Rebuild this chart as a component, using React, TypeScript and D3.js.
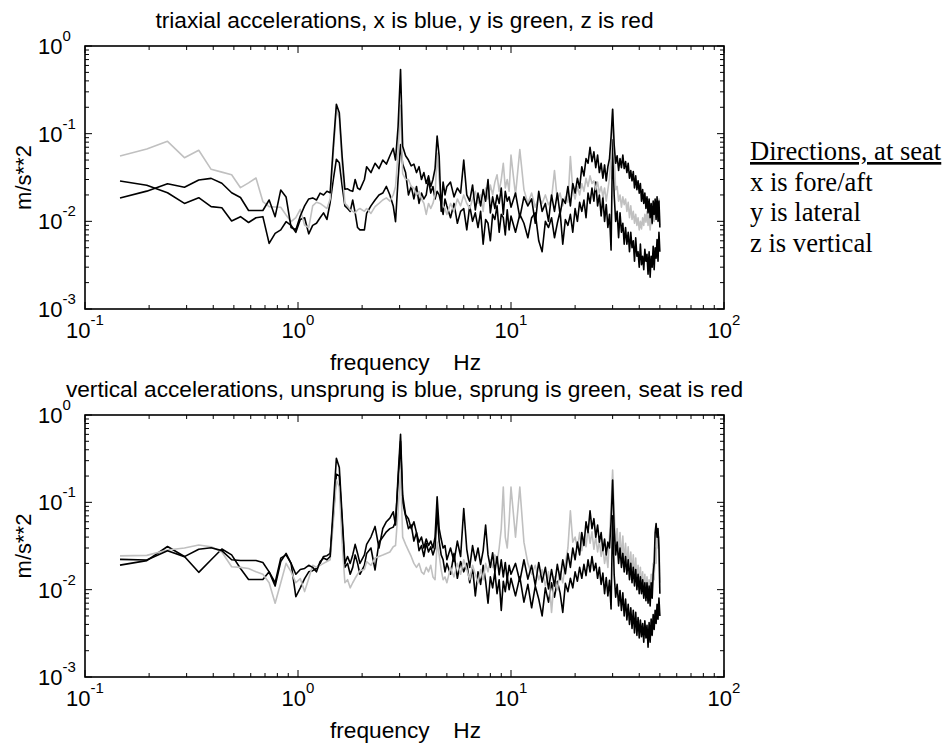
import React from 'react';
import * as d3 from 'd3';

// frequency bins, Hz (shared by every series)
const FREQ = [
  0.146, 0.195, 0.244, 0.293, 0.342, 0.391, 0.439, 0.488, 0.537, 0.586,
  0.635, 0.684, 0.732, 0.781, 0.830, 0.879, 0.928, 0.977, 1.025, 1.074,
  1.123, 1.172, 1.221, 1.270, 1.318, 1.367, 1.416, 1.465, 1.514, 1.563,
  1.611, 1.660, 1.709, 1.758, 1.807, 1.855, 1.904, 1.953,
  2.05, 2.1, 2.2, 2.3, 2.4, 2.5, 2.6, 2.7, 2.8, 2.87, 2.95, 3.03, 3.1, 3.2, 3.3, 3.4,
  3.5, 3.6, 3.7, 3.8, 3.9, 4.0, 4.1, 4.2, 4.3, 4.4, 4.5, 4.6, 4.7, 4.8, 4.9, 5.0,
  5.2, 5.4, 5.6, 5.8, 6.0, 6.2, 6.4, 6.6, 6.8, 7.0, 7.2, 7.4, 7.6, 7.8, 8.0, 8.2,
  8.4, 8.6, 8.8, 9.0, 9.2, 9.4, 9.6, 9.8, 10.0,
  10.5, 11, 11.5, 12, 12.5, 13, 13.5, 14, 14.5, 15, 15.5, 16, 16.5, 17, 17.5, 18, 18.5, 19, 19.5, 20,
  20.5, 21, 21.5, 22, 22.5, 23, 23.5, 24, 24.5, 25, 25.5, 26, 26.5, 27, 27.5, 28, 28.5, 29, 29.5, 30,
  30.5, 31, 31.5, 32, 32.5, 33, 33.5, 34, 34.5, 35, 35.5, 36, 36.5, 37, 37.5, 38, 38.5, 39, 39.5, 40,
  40.5, 41, 41.5, 42, 42.5, 43, 43.5, 44, 44.5, 45, 45.5, 46, 46.5, 47, 47.5, 48, 48.5, 49, 49.5, 50,
];

// ---- top panel: triaxial accelerations at seat (m/s**2) ----
const TOP_X = [
  0.0288, 0.0258, 0.0212, 0.0160, 0.0186, 0.0147, 0.0143, 0.0101, 0.0113, 0.0097,
  0.0110, 0.0113, 0.0056, 0.0073, 0.0080, 0.0099, 0.0090,
  0.0075, 0.0105, 0.0110, 0.0072, 0.0090, 0.0095, 0.0110, 0.0125, 0.0105,
  0.0164, 0.030, 0.051, 0.0465, 0.0253, 0.015,
  0.0140, 0.0130, 0.0175, 0.0125, 0.0085, 0.0080,
  0.0080, 0.0123, 0.0150, 0.0175, 0.0200, 0.0210, 0.0250, 0.0200, 0.0150, 0.0099, 0.030, 0.075,
  0.045, 0.036, 0.020, 0.025, 0.018, 0.025, 0.016, 0.021, 0.018, 0.020,
  0.030, 0.021, 0.025, 0.018, 0.022, 0.020, 0.016, 0.012, 0.018, 0.015,
  0.011, 0.016, 0.0095, 0.013, 0.014, 0.008, 0.015, 0.010, 0.0125, 0.0085, 0.013, 0.0055, 0.0105,
  0.0095, 0.006, 0.012, 0.0105, 0.015, 0.0075, 0.012, 0.011, 0.007, 0.0135, 0.008, 0.0115,
  0.0075, 0.012, 0.0095, 0.0065, 0.011, 0.0125, 0.006, 0.0045, 0.010, 0.0085,
  0.011, 0.0065, 0.0095, 0.013, 0.0055, 0.0105, 0.009, 0.012, 0.0075, 0.014,
  0.010, 0.0165, 0.013, 0.0175, 0.011, 0.021, 0.016, 0.024, 0.017, 0.028,
  0.015, 0.020, 0.0115, 0.019, 0.010, 0.0155, 0.0085, 0.012, 0.0047, 0.085,
  0.020, 0.010, 0.013, 0.0065, 0.0125, 0.0075, 0.0095, 0.0055, 0.0085, 0.0055,
  0.0075, 0.0045, 0.0075, 0.005, 0.006, 0.0035, 0.0065, 0.004, 0.0045, 0.003,
  0.0055, 0.0032, 0.004, 0.0028, 0.0048, 0.0035, 0.0042, 0.0025, 0.0045, 0.0023,
  0.004, 0.003, 0.0052, 0.0028, 0.005, 0.0038, 0.0062, 0.0035, 0.0075, 0.0045,
];
const TOP_Y = [
  0.0556, 0.0668, 0.0818, 0.0532, 0.0646, 0.0392, 0.0364, 0.034, 0.0242, 0.0275,
  0.0312, 0.0168, 0.0147, 0.0146, 0.0145, 0.0118, 0.0099,
  0.0110, 0.0137, 0.0090, 0.0085, 0.0150, 0.0165, 0.0160, 0.0150, 0.0140,
  0.018, 0.060, 0.19, 0.15, 0.045, 0.016,
  0.0150, 0.0135, 0.0130, 0.0125, 0.0135, 0.0140,
  0.0130, 0.0140, 0.0123, 0.0147, 0.0160, 0.0175, 0.0185, 0.0170, 0.0200, 0.025, 0.060, 0.210,
  0.035, 0.030, 0.030, 0.025, 0.024, 0.020, 0.022, 0.018, 0.016, 0.012,
  0.016, 0.014, 0.016, 0.020, 0.060, 0.030, 0.018, 0.015, 0.014, 0.012,
  0.016, 0.013, 0.018, 0.015, 0.020, 0.016, 0.014, 0.018, 0.022, 0.016, 0.020, 0.013, 0.024,
  0.018, 0.026, 0.020, 0.028, 0.034, 0.022, 0.030, 0.046, 0.024, 0.030, 0.022, 0.057,
  0.020, 0.066, 0.023, 0.016, 0.021, 0.0145, 0.019, 0.016, 0.020, 0.0155,
  0.018, 0.038, 0.0175, 0.021, 0.015, 0.019, 0.0165, 0.055, 0.023, 0.018,
  0.025, 0.020, 0.027, 0.022, 0.031, 0.025, 0.033, 0.027, 0.029, 0.023,
  0.028, 0.021, 0.025, 0.019, 0.024, 0.017, 0.023, 0.031, 0.060, 0.190,
  0.060, 0.023, 0.025, 0.017, 0.020, 0.0145, 0.019, 0.0155, 0.018, 0.013,
  0.0165, 0.011, 0.015, 0.0105, 0.013, 0.0095, 0.012, 0.009, 0.011, 0.008,
  0.010, 0.0082, 0.011, 0.009, 0.012, 0.0098, 0.013, 0.009, 0.012, 0.008,
  0.011, 0.0092, 0.013, 0.010, 0.014, 0.011, 0.016, 0.012, 0.018, 0.009,
];
const TOP_Z = [
  0.0185, 0.0221, 0.0268, 0.0245, 0.0296, 0.0309, 0.0272, 0.0212, 0.0187, 0.0133,
  0.0133, 0.0133, 0.0175, 0.0113, 0.0228, 0.0190, 0.0085,
  0.0080, 0.0115, 0.0150, 0.0180, 0.0185, 0.0175, 0.0210, 0.0200, 0.0220,
  0.0212, 0.072, 0.216, 0.173, 0.0556, 0.0232,
  0.0235, 0.0225, 0.0220, 0.0300, 0.0240, 0.0230,
  0.030, 0.042, 0.036, 0.046, 0.040, 0.050, 0.045, 0.056, 0.068, 0.050, 0.12, 0.54,
  0.072, 0.056, 0.050, 0.043, 0.045, 0.036, 0.042, 0.030, 0.036, 0.027,
  0.033, 0.025, 0.030, 0.040, 0.094, 0.055, 0.013, 0.028, 0.020, 0.025,
  0.028, 0.019, 0.024, 0.021, 0.050, 0.020, 0.017, 0.026, 0.0135, 0.021, 0.015, 0.023, 0.017,
  0.030, 0.0125, 0.019, 0.014, 0.020, 0.016, 0.024, 0.012, 0.022, 0.017, 0.019, 0.0145,
  0.021, 0.011, 0.019, 0.015, 0.018, 0.0095, 0.022, 0.013, 0.016, 0.010,
  0.020, 0.013, 0.021, 0.012, 0.018, 0.016, 0.025, 0.015, 0.027, 0.021,
  0.031, 0.024, 0.042, 0.033, 0.052, 0.046, 0.070, 0.048, 0.062, 0.041,
  0.057, 0.036, 0.046, 0.031, 0.044, 0.029, 0.042, 0.052, 0.092, 0.190,
  0.075, 0.046, 0.056, 0.038, 0.052, 0.041, 0.057, 0.040, 0.048, 0.036,
  0.046, 0.031, 0.038, 0.029, 0.037, 0.024, 0.033, 0.023, 0.029, 0.021,
  0.027, 0.017, 0.023, 0.016, 0.021, 0.014, 0.019, 0.0125, 0.018, 0.011,
  0.016, 0.0095, 0.017, 0.012, 0.018, 0.0105, 0.019, 0.010, 0.017, 0.0085,
];

// ---- bottom panel: vertical accelerations (m/s**2) ----
const BOT_UNSPRUNG = [
  0.0191, 0.0215, 0.0312, 0.0240, 0.0158, 0.0220, 0.0292, 0.0250, 0.0175, 0.0131,
  0.0131, 0.0131, 0.0160, 0.0110, 0.0210, 0.0260, 0.0200,
  0.0083, 0.0105, 0.0134, 0.0160, 0.0165, 0.0175, 0.0200, 0.0240, 0.0245,
  0.0260, 0.070, 0.21, 0.20, 0.06, 0.018,
  0.0200, 0.0150, 0.0180, 0.0250, 0.0200, 0.0150,
  0.0190, 0.026, 0.030, 0.0168, 0.035, 0.040, 0.046, 0.050, 0.052, 0.060, 0.17, 0.50,
  0.10, 0.070, 0.050, 0.055, 0.036, 0.045, 0.028, 0.032, 0.024, 0.034,
  0.027, 0.031, 0.025, 0.030, 0.080, 0.036, 0.025, 0.022, 0.016, 0.020,
  0.015, 0.026, 0.0135, 0.021, 0.016, 0.020, 0.012, 0.018, 0.0085, 0.016, 0.0115, 0.019, 0.0125,
  0.007, 0.014, 0.0105, 0.016, 0.009, 0.013, 0.0058, 0.0125, 0.0095, 0.014, 0.010, 0.0135,
  0.0085, 0.014, 0.0072, 0.0115, 0.0062, 0.011, 0.0078, 0.005, 0.0105, 0.0072,
  0.012, 0.0082, 0.0125, 0.0092, 0.0055, 0.0118, 0.0095, 0.0135, 0.0105, 0.016,
  0.0125, 0.018, 0.0135, 0.0195, 0.0145, 0.022, 0.016, 0.024, 0.0165, 0.020,
  0.0135, 0.018, 0.0115, 0.0155, 0.009, 0.0138, 0.0085, 0.0128, 0.006, 0.070,
  0.015, 0.0082, 0.0115, 0.0065, 0.0098, 0.0058, 0.0092, 0.005, 0.0078, 0.0045,
  0.0068, 0.004, 0.0062, 0.0036, 0.0058, 0.0032, 0.0055, 0.003, 0.0048, 0.0028,
  0.0045, 0.0029, 0.0041, 0.0025, 0.0044, 0.0028, 0.0039, 0.0022, 0.0042, 0.0025,
  0.0046, 0.003, 0.0052, 0.0035, 0.0058, 0.0041, 0.0068, 0.0046, 0.008, 0.005,
];
const BOT_SPRUNG = [
  0.0244, 0.0247, 0.0284, 0.0300, 0.0325, 0.0310, 0.0270, 0.0183, 0.0180, 0.0175,
  0.0160, 0.0150, 0.0120, 0.0070, 0.0120, 0.0200, 0.0160,
  0.0120, 0.0134, 0.0095, 0.0134, 0.0190, 0.0180, 0.0190, 0.0200, 0.0210,
  0.0220, 0.060, 0.18, 0.15, 0.035, 0.012,
  0.0130, 0.0105, 0.0120, 0.0135, 0.0150, 0.0165,
  0.0170, 0.0209, 0.0190, 0.0230, 0.0240, 0.0249, 0.0260, 0.0270, 0.031, 0.032, 0.080, 0.235,
  0.040, 0.033, 0.028, 0.024, 0.020, 0.018, 0.020, 0.016, 0.015, 0.018,
  0.016, 0.019, 0.014, 0.013, 0.035, 0.025, 0.017, 0.013, 0.014, 0.012,
  0.018, 0.014, 0.020, 0.015, 0.022, 0.017, 0.013, 0.019, 0.015, 0.012, 0.017, 0.013, 0.020,
  0.016, 0.022, 0.018, 0.025, 0.020, 0.030, 0.050, 0.150, 0.040, 0.030, 0.060, 0.150,
  0.040, 0.150, 0.035, 0.020, 0.015, 0.019, 0.013, 0.017, 0.011, 0.016,
  0.0055, 0.014, 0.010, 0.016, 0.012, 0.020, 0.030, 0.080, 0.035, 0.040,
  0.030, 0.045, 0.028, 0.040, 0.031, 0.050, 0.034, 0.046, 0.029, 0.041,
  0.027, 0.036, 0.024, 0.031, 0.020, 0.026, 0.018, 0.040, 0.090, 0.235,
  0.080, 0.030, 0.050, 0.024, 0.045, 0.022, 0.041, 0.020, 0.034, 0.018,
  0.031, 0.016, 0.027, 0.015, 0.025, 0.013, 0.023, 0.012, 0.019, 0.011,
  0.018, 0.010, 0.016, 0.0085, 0.015, 0.008, 0.014, 0.0075, 0.013, 0.008,
  0.015, 0.010, 0.020, 0.013, 0.030, 0.020, 0.045, 0.030, 0.040, 0.012,
];
const BOT_SEAT = [
  0.0222, 0.0219, 0.0279, 0.0239, 0.0290, 0.0302, 0.0280, 0.0220, 0.0216, 0.0216,
  0.0216, 0.0205, 0.0160, 0.0120, 0.0230, 0.0250, 0.0200,
  0.0150, 0.0170, 0.0175, 0.0190, 0.0180, 0.0160, 0.0210, 0.0230, 0.0220,
  0.0240, 0.090, 0.32, 0.25, 0.07, 0.020,
  0.0240, 0.0200, 0.0250, 0.0330, 0.0260, 0.0200,
  0.0250, 0.033, 0.040, 0.053, 0.030, 0.050, 0.060, 0.066, 0.078, 0.055, 0.20, 0.60,
  0.12, 0.072, 0.065, 0.050, 0.060, 0.045, 0.035, 0.040, 0.030, 0.038,
  0.032, 0.036, 0.030, 0.040, 0.116, 0.050, 0.038, 0.030, 0.032, 0.022,
  0.030, 0.021, 0.036, 0.024, 0.085, 0.029, 0.018, 0.032, 0.0215, 0.030, 0.0195, 0.028, 0.055,
  0.025, 0.018, 0.0265, 0.016, 0.024, 0.0148, 0.022, 0.014, 0.0205, 0.013, 0.019, 0.015,
  0.020, 0.0125, 0.022, 0.0132, 0.019, 0.0112, 0.0205, 0.0122, 0.018, 0.0102,
  0.017, 0.011, 0.0195, 0.013, 0.022, 0.0152, 0.026, 0.018, 0.030, 0.022,
  0.035, 0.025, 0.045, 0.032, 0.060, 0.045, 0.080, 0.050, 0.065, 0.040,
  0.055, 0.035, 0.045, 0.028, 0.038, 0.025, 0.035, 0.030, 0.060, 0.180,
  0.050, 0.025, 0.035, 0.020, 0.030, 0.018, 0.026, 0.016, 0.024, 0.015,
  0.022, 0.013, 0.020, 0.012, 0.018, 0.011, 0.017, 0.010, 0.015, 0.009,
  0.014, 0.009, 0.013, 0.008, 0.012, 0.0075, 0.012, 0.007, 0.011, 0.0065,
  0.012, 0.008, 0.015, 0.020, 0.045, 0.057, 0.040, 0.050, 0.030, 0.009,
];

// axis tick exponents (labels are 10^e)
const X_EXPONENTS = [-1, 0, 1, 2];
const Y_EXPONENTS = [-3, -2, -1, 0];
const MINOR_MULTIPLIERS = [2, 3, 4, 5, 6, 7, 8, 9];

const TOP_TITLE = 'triaxial accelerations, x is blue, y is green, z is red';
const BOT_TITLE = 'vertical accelerations, unsprung is blue, sprung is green, seat is red';
const LEGEND_HEAD = 'Directions, at seat';
const LEGEND_LINES = ['x is fore/aft', 'y is lateral', 'z is vertical'];

const SANS = '"Liberation Sans", Arial, Helvetica, sans-serif';
const SERIF = '"Liberation Serif", "Times New Roman", serif';
const BLACK = '#000000';
const GRAY = '#c0c0c0';

const PLOT_LEFT = 85;
const PLOT_RIGHT = 724;

type Series = { values: number[]; color: string };

function Panel(props: {
  top: number;
  bottom: number;
  title: string;
  titleY: number;
  series: Series[];
}) {
  const { top, bottom, title, titleY, series } = props;
  const x = d3.scaleLog().domain([0.1, 100]).range([PLOT_LEFT, PLOT_RIGHT]);
  const y = d3.scaleLog().domain([0.001, 1]).range([bottom, top]);
  const line = d3
    .line<[number, number]>()
    .x((d) => x(d[0]))
    .y((d) => y(d[1]));

  const xMajor = X_EXPONENTS.map((e) => Math.pow(10, e));
  const xMinor: number[] = [];
  X_EXPONENTS.slice(0, -1).forEach((e) =>
    MINOR_MULTIPLIERS.forEach((m) => xMinor.push(m * Math.pow(10, e)))
  );
  const yMajor = Y_EXPONENTS.map((e) => Math.pow(10, e));
  const yMinor: number[] = [];
  Y_EXPONENTS.slice(0, -1).forEach((e) =>
    MINOR_MULTIPLIERS.forEach((m) => yMinor.push(m * Math.pow(10, e)))
  );
  const MAJ = 7;
  const MIN = 4;
  const cx = (PLOT_LEFT + PLOT_RIGHT) / 2;
  const cy = (top + bottom) / 2;

  return (
    <g>
      <text x={cx} y={titleY} textAnchor="middle" fontFamily={SANS} fontSize={22.7} fill="#000">
        {title}
      </text>
      <g fill="none" strokeWidth={1.6} strokeLinejoin="round">
        {series.map((s, i) => {
          const pts = d3.zip(FREQ, s.values) as [number, number][];
          return <path key={i} d={line(pts) || ''} stroke={s.color} />;
        })}
      </g>
      <g stroke="#000" strokeWidth={1}>
        {xMajor.map((v, i) => (
          <g key={'xM' + i}>
            <line x1={x(v)} x2={x(v)} y1={bottom} y2={bottom - MAJ} />
            <line x1={x(v)} x2={x(v)} y1={top} y2={top + MAJ} />
          </g>
        ))}
        {xMinor.map((v, i) => (
          <g key={'xm' + i}>
            <line x1={x(v)} x2={x(v)} y1={bottom} y2={bottom - MIN} />
            <line x1={x(v)} x2={x(v)} y1={top} y2={top + MIN} />
          </g>
        ))}
        {yMajor.map((v, i) => (
          <g key={'yM' + i}>
            <line x1={PLOT_LEFT} x2={PLOT_LEFT + MAJ} y1={y(v)} y2={y(v)} />
            <line x1={PLOT_RIGHT} x2={PLOT_RIGHT - MAJ} y1={y(v)} y2={y(v)} />
          </g>
        ))}
        {yMinor.map((v, i) => (
          <g key={'ym' + i}>
            <line x1={PLOT_LEFT} x2={PLOT_LEFT + MIN} y1={y(v)} y2={y(v)} />
            <line x1={PLOT_RIGHT} x2={PLOT_RIGHT - MIN} y1={y(v)} y2={y(v)} />
          </g>
        ))}
      </g>
      <rect
        x={PLOT_LEFT}
        y={top}
        width={PLOT_RIGHT - PLOT_LEFT}
        height={bottom - top}
        fill="none"
        stroke="#000"
        strokeWidth={1.6}
      />
      <g fontFamily={SANS} fill="#000">
        {X_EXPONENTS.map((e, i) => (
          <text key={'xl' + i} x={x(Math.pow(10, e))} y={bottom + 29} textAnchor="middle" fontSize={22}>
            <tspan>10</tspan>
            <tspan dy={-13} fontSize={15}>{String(e)}</tspan>
          </text>
        ))}
        {Y_EXPONENTS.map((e, i) => (
          <text key={'yl' + i} x={38} y={y(Math.pow(10, e)) + 8} textAnchor="start" fontSize={22}>
            <tspan>10</tspan>
            <tspan dy={-13} fontSize={15}>{String(e)}</tspan>
          </text>
        ))}
        <text x={330} y={bottom + 61} fontSize={22.7}>frequency</text>
        <text x={481} y={bottom + 61} fontSize={22.7} textAnchor="end">Hz</text>
        <text transform={`translate(31,${cy}) rotate(-90)`} textAnchor="middle" fontSize={22}>
          m/s**2
        </text>
      </g>
    </g>
  );
}

export default function App() {
  return (
    <svg
      width={951}
      height={746}
      viewBox="0 0 951 746"
      style={{ position: 'absolute', left: 0, top: 0, background: '#fff' }}
    >
      <rect x={0} y={0} width={951} height={746} fill="#fff" />
      <Panel
        top={46}
        bottom={309}
        title={TOP_TITLE}
        titleY={28}
        series={[
          { values: TOP_X, color: BLACK },
          { values: TOP_Y, color: GRAY },
          { values: TOP_Z, color: BLACK },
        ]}
      />
      <Panel
        top={415}
        bottom={677}
        title={BOT_TITLE}
        titleY={397}
        series={[
          { values: BOT_UNSPRUNG, color: BLACK },
          { values: BOT_SPRUNG, color: GRAY },
          { values: BOT_SEAT, color: BLACK },
        ]}
      />
      <g fontFamily={SERIF} fontSize={26.6} fill="#000">
        <text x={750} y={160} textDecoration="underline">{LEGEND_HEAD}</text>
        {LEGEND_LINES.map((t, i) => (
          <text key={i} x={750} y={191 + i * 30.3}>{t}</text>
        ))}
      </g>
    </svg>
  );
}
